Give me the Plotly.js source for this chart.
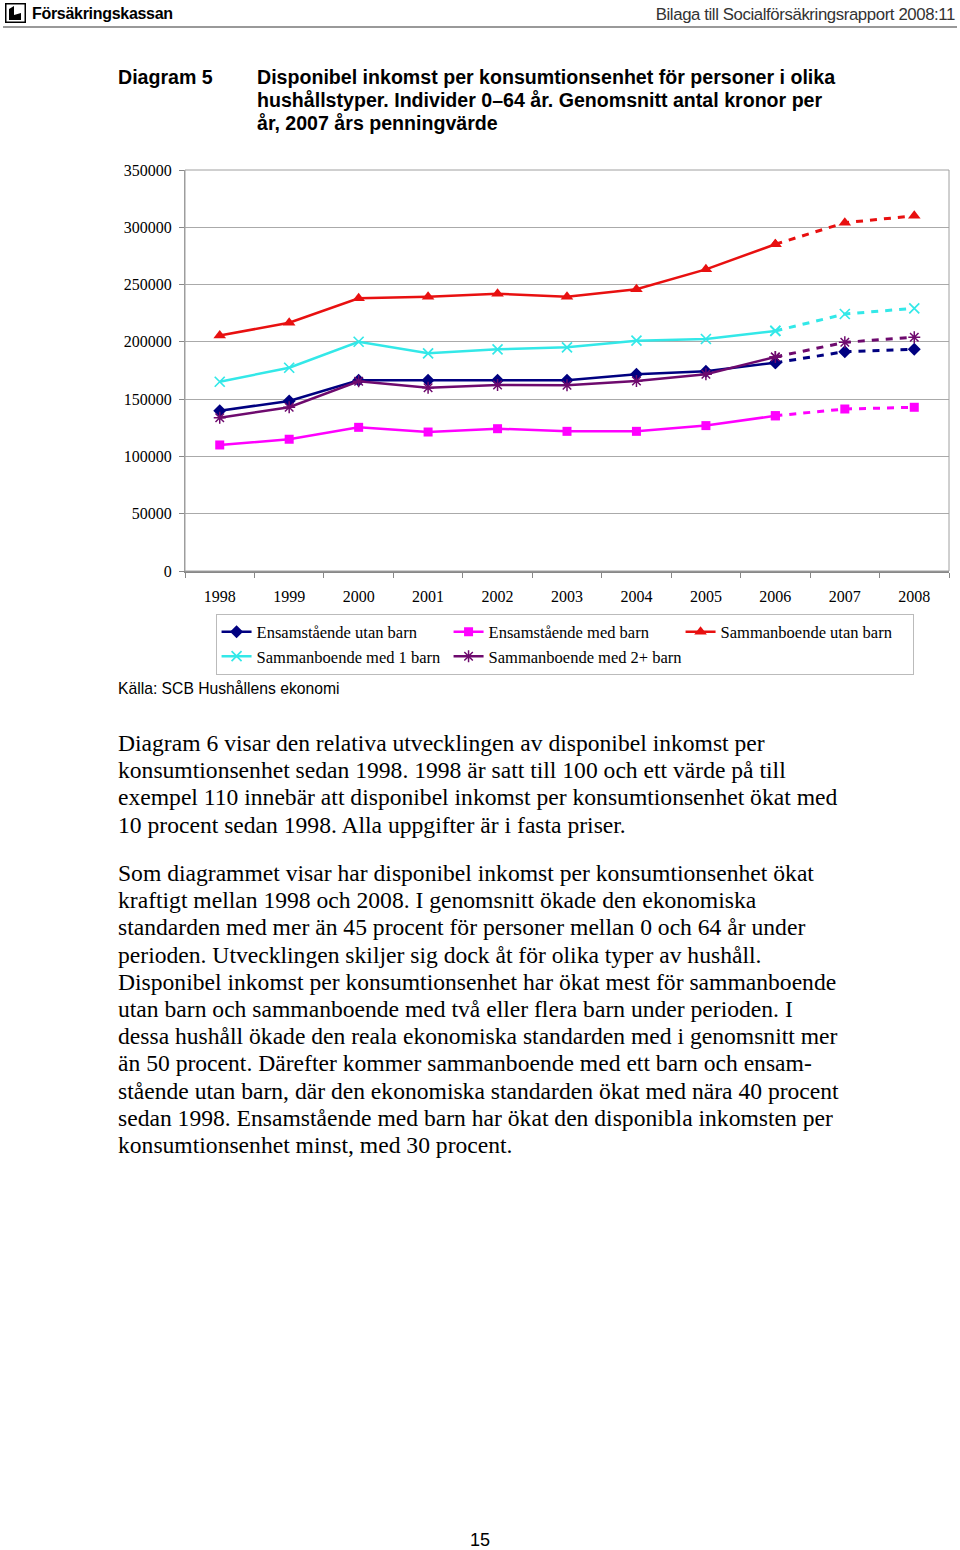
<!DOCTYPE html>
<html>
<head>
<meta charset="utf-8">
<script src="https://cdn.plot.ly/plotly-3.0.1.min.js"></script>
<style>
  html, body { margin:0; padding:0; background:#fff; }
  body { width:960px; height:1550px; position:relative; overflow:hidden; }
  .abs { position:absolute; white-space:nowrap; }
  .hdr-l { left:32px; top:5px; font-family:'Liberation Sans', Arial, sans-serif; font-weight:bold; font-size:16px; color:#000; letter-spacing:-0.3px; }
  .hdr-r { right:5px; top:5px; font-family:'Liberation Sans', Arial, sans-serif; font-size:16.8px; color:#333; letter-spacing:-0.4px; }
  .rule { left:3px; top:26px; width:954px; height:2px; background:#999; }
  .dlab { left:118px; top:66px; font-family:'Liberation Sans', Arial, sans-serif; font-weight:bold; font-size:19.6px; }
  .dtit { left:257px; top:66px; font-family:'Liberation Sans', Arial, sans-serif; font-weight:bold; font-size:19.6px; line-height:23px; }
  .src { left:118px; top:680px; font-family:'Liberation Sans', Arial, sans-serif; font-size:15.7px; }
  .body { left:118px; font-family:'Liberation Serif', 'Times New Roman', serif; font-size:23.6px; line-height:27.2px; color:#000; }
  .pno { left:470px; top:1530px; font-family:'Liberation Sans', Arial, sans-serif; font-size:18px; }
  #chart { position:absolute; left:0; top:150px; width:960px; height:570px; }
</style>
</head>
<body>
<svg class="abs" style="left:5px;top:3px" width="21" height="20" viewBox="0 0 21 20">
  <rect x="0.75" y="0.75" width="19.5" height="18.5" fill="none" stroke="#000" stroke-width="1.5"/>
  <path d="M4 17 L4 6 L9 3 L9 12 L16 10 L16 17 Z" fill="#000"/>
</svg>
<div class="abs hdr-l">Försäkringskassan</div>
<div class="abs hdr-r">Bilaga till Socialförsäkringsrapport 2008:11</div>
<div class="abs rule"></div>

<div class="abs dlab">Diagram 5</div>
<div class="abs dtit">Disponibel inkomst per konsumtionsenhet för personer i olika<br>hushållstyper. Individer 0–64 år. Genomsnitt antal kronor per<br>år, 2007 års penningvärde</div>

<div id="chart"></div>

<div class="abs src">Källa: SCB Hushållens ekonomi</div>

<div class="abs body" style="top:730px">Diagram 6 visar den relativa utvecklingen av disponibel inkomst per<br>konsumtionsenhet sedan 1998. 1998 är satt till 100 och ett värde på till<br>exempel 110 innebär att disponibel inkomst per konsumtionsenhet ökat med<br>10 procent sedan 1998. Alla uppgifter är i fasta priser.</div>

<div class="abs body" style="top:860px">Som diagrammet visar har disponibel inkomst per konsumtionsenhet ökat<br>kraftigt mellan 1998 och 2008. I genomsnitt ökade den ekonomiska<br>standarden med mer än 45 procent för personer mellan 0 och 64 år under<br>perioden. Utvecklingen skiljer sig dock åt för olika typer av hushåll.<br>Disponibel inkomst per konsumtionsenhet har ökat mest för sammanboende<br>utan barn och sammanboende med två eller flera barn under perioden. I<br>dessa hushåll ökade den reala ekonomiska standarden med i genomsnitt mer<br>än 50 procent. Därefter kommer sammanboende med ett barn och ensam-<br>stående utan barn, där den ekonomiska standarden ökat med nära 40 procent<br>sedan 1998. Ensamstående med barn har ökat den disponibla inkomsten per<br>konsumtionsenhet minst, med 30 procent.</div>

<div class="abs pno">15</div>

<script>
// ---- Data (kronor per år, 2007 års penningvärde) ----
const years = ['1998','1999','2000','2001','2002','2003','2004','2005','2006','2007','2008'];
const ensamUtanBarn      = [139900, 148400, 166400, 166400, 166400, 166400, 171700, 174300, 181800, 191400, 193500];
const ensamMedBarn       = [110000, 115000, 125400, 121300, 124200, 121900, 121900, 126900, 135500, 141400, 142900];
const sambUtanBarn       = [205500, 216700, 238000, 239400, 242000, 239400, 245900, 263300, 285200, 304000, 310000];
const sambMed1Barn       = [165200, 177400, 200100, 190000, 193500, 195200, 201000, 202500, 209500, 224300, 229300];
const sambMed2Barn       = [133800, 142900, 165600, 160000, 162300, 162100, 165800, 171700, 186800, 199600, 204000];
const seriesNames = ['Ensamstående utan barn','Ensamstående med barn','Sammanboende utan barn','Sammanboende med 1 barn','Sammanboende med 2+ barn'];
const lastActualIndex = 8; // 2006: later years drawn dotted (prognos)

const seriesData = [ensamUtanBarn, ensamMedBarn, sambUtanBarn, sambMed1Barn, sambMed2Barn];
const styles = [
  {color:'#000080', symbol:'diamond', size:10, lw:0},
  {color:'#FF00FF', symbol:'square', size:9, lw:0},
  {color:'#E81010', symbol:'triangle-up', size:11, lw:0},
  {color:'#33E8E8', symbol:'x-thin-open', size:10, lw:1.7},
  {color:'#6E0A6E', symbol:'asterisk-open', size:10, lw:1.5}
];

const traces = [];
seriesData.forEach((vals, i) => {
  const s = styles[i];
  traces.push({
    type:'scatter', mode:'lines+markers', name: seriesNames[i],
    x: years.slice(0, lastActualIndex+1), y: vals.slice(0, lastActualIndex+1),
    line:{color:s.color, width:2.5},
    marker:{symbol:s.symbol, size:s.size, color:s.color, line:{color:s.color, width:s.lw}},
    showlegend:true, hoverinfo:'skip'
  });
});
seriesData.forEach((vals, i) => {
  const s = styles[i];
  traces.push({
    type:'scatter', mode:'lines+markers', name: seriesNames[i],
    x: years.slice(lastActualIndex), y: vals.slice(lastActualIndex),
    line:{color:s.color, width:3, dash:'7px,7px'},
    marker:{symbol:s.symbol, size:s.size, color:s.color, line:{color:s.color, width:s.lw}},
    showlegend:false, hoverinfo:'skip'
  });
});

const layout = {
  width:960, height:570,
  margin:{l:185, r:11, t:20, b:149},
  paper_bgcolor:'rgba(0,0,0,0)', plot_bgcolor:'#fff',
  font:{family:"'Liberation Serif', 'Times New Roman', serif", size:16, color:'#000'},
  xaxis:{
    type:'category', range:[-0.5, 10.5], tickson:'boundaries',
    ticks:'outside', ticklen:5, tickcolor:'#888', tickwidth:1,
    showline:true, linecolor:'#888', linewidth:2, showgrid:false, zeroline:false,
    ticklabelstandoff:10, fixedrange:true, automargin:false
  },
  yaxis:{
    range:[0, 350000], dtick:50000, tickformat:'d',
    ticks:'outside', ticklen:5, tickcolor:'#888', tickwidth:1,
    showline:true, linecolor:'#999', linewidth:1,
    showgrid:true, gridcolor:'#AAAAAA', gridwidth:1, zeroline:false,
    ticklabelstandoff:4, fixedrange:true, automargin:false
  },
  shapes:[{type:'rect', xref:'paper', yref:'paper', x0:0, x1:1, y0:0, y1:1, line:{color:'#A0A0A0', width:1}, layer:'above'}],
  legend:{
    orientation:'h', x:0.040, xanchor:'left', y:-0.106, yanchor:'top',
    bgcolor:'#fff', bordercolor:'#BBBBBB', borderwidth:1,
    itemwidth:30, entrywidthmode:'pixels', entrywidth:187,
    font:{size:16.5}, traceorder:'normal'
  },
  showlegend:true
};

Plotly.newPlot('chart', traces, layout, {staticPlot:true, displayModeBar:false});
</script>
</body>
</html>
